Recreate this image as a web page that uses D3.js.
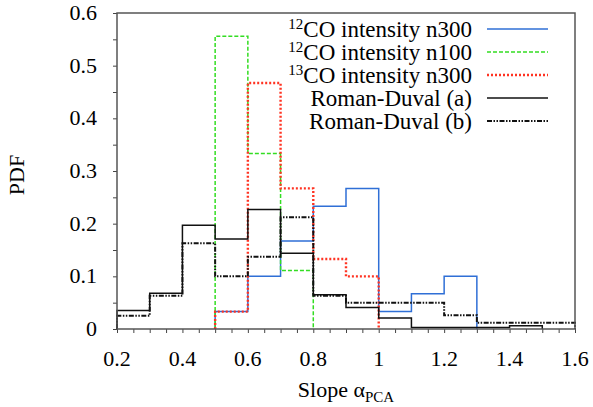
<!DOCTYPE html>
<html>
<head>
<meta charset="utf-8">
<script src="https://cdn.jsdelivr.net/npm/d3@7"></script>
<style>
  body { margin: 0; background: #fff; }
  svg text { font-family: "Liberation Serif", "Times New Roman", serif; }
</style>
</head>
<body>
<div id="chart-area"></div>
<script>
// left edges of the 0.1-wide bins
const binLefts = [0.2, 0.3, 0.4, 0.5, 0.6, 0.7, 0.8, 0.9, 1.0, 1.1, 1.2, 1.3, 1.4, 1.5]
const co12n300 = [null, null, null, 0.033, 0.1, 0.167, 0.233, 0.267, 0.033, 0.067, 0.1, null, null, null]
const co12n100 = [null, null, null, 0.556, 0.333, 0.111, null, null, null, null, null, null, null, null]
const co13n300 = [null, null, null, 0.033, 0.467, 0.267, 0.133, 0.1, null, null, null, null, null, null]
const romanA = [0.035, 0.068, 0.197, 0.171, 0.227, 0.144, 0.065, 0.041, 0.021, 0.003, 0.003, 0.003, 0.006, null]
const romanB = [0.025, 0.063, 0.163, 0.1, 0.137, 0.212, 0.063, 0.05, 0.05, 0.05, 0.026, 0.012, 0.012, 0.012]

const xTickLabels = ["0.2", "0.4", "0.6", "0.8", "1", "1.2", "1.4", "1.6"]
const yTickLabels = ["0", "0.1", "0.2", "0.3", "0.4", "0.5", "0.6"]

const legendSup = ["12", "12", "13", "", ""]
const legendText = ["CO intensity n300", "CO intensity n100", "CO intensity n300", "Roman-Duval (a)", "Roman-Duval (b)"]

const series = [
    { values: co12n300, color: "#2f6fd6", width: 1.5, dash: null },
    { values: co12n100, color: "#33dd22", width: 1.5, dash: "4,2" },
    { values: co13n300, color: "#ff3322", width: 2.4, dash: "2,2" },
    { values: romanA, color: "#111", width: 1.5, dash: null },
    { values: romanB, color: "#111", width: 2, dash: "5,1.5,1.5,1.5,1.5,1.5" }
]

const FONT = "Liberation Serif, Times New Roman, serif"
const MARGIN = { left: 117, right: 18, top: 13, bottom: 78 }
const WIDTH = 593 - MARGIN.left - MARGIN.right
const HEIGHT = 407 - MARGIN.top - MARGIN.bottom

const svg = d3.select("#chart-area").append("svg")
    .attr("width", 593)
    .attr("height", 407)
    .attr("font-family", FONT)

const g = svg.append("g")
    .attr("transform", `translate(${MARGIN.left}, ${MARGIN.top})`)

const x = d3.scaleLinear().domain([0.2, 1.6]).range([0, WIDTH])
const y = d3.scaleLinear().domain([0, 0.6]).range([HEIGHT, 0])

// minor ticks every 0.05, labels only on the major ones
const xTicks = d3.range(0, 29).map(i => +(0.2 + i * 0.05).toFixed(2))
const yTicks = d3.range(0, 13).map(i => +(i * 0.05).toFixed(2))

g.append("g")
    .attr("transform", `translate(0, ${HEIGHT})`)
    .call(d3.axisBottom(x).tickValues(xTicks).tickSize(4).tickFormat(""))
g.append("g")
    .call(d3.axisLeft(y).tickValues(yTicks).tickSize(4).tickFormat(""))
g.selectAll(".domain").remove()
g.selectAll(".tick line").attr("stroke", "#444").attr("stroke-width", 1)

g.selectAll(".xlab")
    .data(xTickLabels)
    .enter().append("text")
    .attr("x", d => x(+d))
    .attr("y", HEIGHT + 37)
    .attr("text-anchor", "middle")
    .attr("font-size", "22px")
    .text(d => d)

g.selectAll(".ylab")
    .data(yTickLabels)
    .enter().append("text")
    .attr("x", -20)
    .attr("y", d => y(+d) + 7)
    .attr("text-anchor", "end")
    .attr("font-size", "22px")
    .text(d => d)

// histogram step lines
const line = d3.line()
    .x(d => x(d[0]))
    .y(d => y(d[1]))
    .curve(d3.curveStepAfter)

series.forEach(s => {
    const idx = s.values.map((v, i) => v === null ? -1 : i).filter(i => i >= 0)
    const first = idx[0], last = idx[idx.length - 1]
    const pts = [[binLefts[first], 0]]
    idx.forEach(i => pts.push([binLefts[i], s.values[i]]))
    pts.push([+(binLefts[last] + 0.1).toFixed(2), 0])
    g.append("path")
        .attr("d", line(pts))
        .attr("fill", "none")
        .attr("stroke", s.color)
        .attr("stroke-width", s.width)
        .attr("stroke-dasharray", s.dash)
})

// frame
g.append("rect")
    .attr("width", WIDTH)
    .attr("height", HEIGHT)
    .attr("fill", "none")
    .attr("stroke", "#555")
    .attr("stroke-width", 1.5)

// legend
const legend = g.selectAll(".legend")
    .data(series)
    .enter().append("g")
    .attr("transform", (d, i) => `translate(0, ${16 + i * 23})`)

legend.append("line")
    .attr("x1", 487 - MARGIN.left)
    .attr("x2", 548 - MARGIN.left)
    .attr("stroke", d => d.color)
    .attr("stroke-width", d => d.width)
    .attr("stroke-dasharray", d => d.dash)

const lt = legend.append("text")
    .attr("x", 472 - MARGIN.left)
    .attr("y", 8)
    .attr("text-anchor", "end")
    .attr("font-size", "23px")
lt.append("tspan")
    .attr("font-size", "15px")
    .attr("dy", -8)
    .text((d, i) => legendSup[i])
lt.append("tspan")
    .attr("dy", (d, i) => legendSup[i] ? 8 : 0)
    .text((d, i) => legendText[i])

// axis labels
const xl = svg.append("text")
    .attr("x", MARGIN.left + WIDTH / 2)
    .attr("y", 397)
    .attr("text-anchor", "middle")
    .attr("font-size", "22px")
xl.append("tspan").text("Slope \u03b1")
xl.append("tspan").attr("font-size", "15px").attr("dy", 5).text("PCA")

svg.append("text")
    .attr("transform", "translate(24, 175) rotate(-90)")
    .attr("text-anchor", "middle")
    .attr("font-size", "22px")
    .text("PDF")
</script>
</body>
</html>
